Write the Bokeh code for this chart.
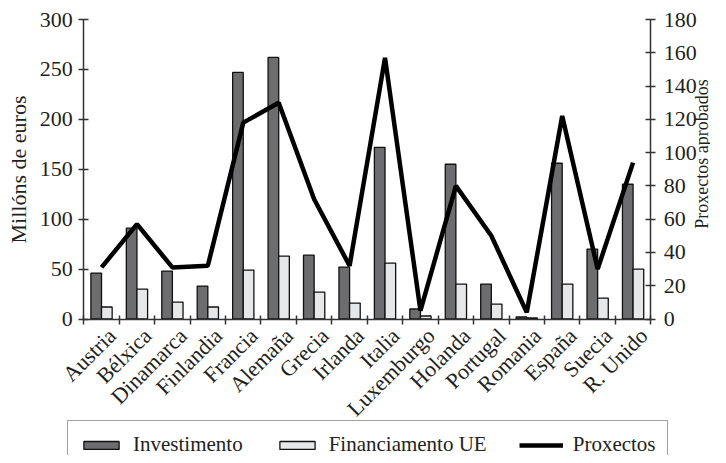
import math
from bokeh.plotting import figure
from bokeh.models import (ColumnDataSource, Range1d, LinearAxis, FixedTicker,
                          Legend, LegendItem)
from bokeh.transform import dodge
from bokeh.embed import file_html
from bokeh.resources import INLINE

countries = ["Austria", "Bélxica", "Dinamarca", "Finlandia", "Francia", "Alemaña",
             "Grecia", "Irlanda", "Italia", "Luxemburgo", "Holanda", "Portugal",
             "Romania", "España", "Suecia", "R. Unido"]
investimento = [46, 91, 48, 33, 247, 262, 64, 52, 172, 10, 155, 35, 2, 156, 70, 135]
financiamento = [12, 30, 17, 12, 49, 63, 27, 16, 56, 3, 35, 15, 1, 35, 21, 50]
proxectos = [31, 57, 31, 32, 118, 130, 72, 32, 157, 5, 80, 50, 4, 122, 30, 94]

left_ticks = [0, 50, 100, 150, 200, 250, 300]
right_ticks = [0, 20, 40, 60, 80, 100, 120, 140, 160, 180]
LEFT_MAX, RIGHT_MAX = 300, 180

FONT = "Liberation Serif"
TXT = "#231f20"
AX = "#333333"
DARK = "#6d6d6f"
LIGHT = "#e6e7e8"
LABEL_SHIFT = 0.3  # rotated category labels sit slightly right of the category centre

# layout (px, measured from the plotting frame's top-left corner)
W, H = 710, 455
PX_L, PX_R, PX_T, PX_B = 83.3, 650.3, 19.0, 318.5
n = len(countries)
ux = (PX_R - PX_L) / n
sy = (PX_B - PX_T) / LEFT_MAX
sy2 = (PX_B - PX_T) / RIGHT_MAX


def x_at(px):
    return -0.5 + (px - PX_L) / ux


idx = list(range(n))
src = ColumnDataSource(dict(x=idx, inv=investimento, fin=financiamento, proj=proxectos))

p = figure(width=W, height=H, output_backend="svg", toolbar_location=None, title=None,
           x_range=Range1d(x_at(0), x_at(W)),
           y_range=Range1d(-(H - PX_B) / sy, LEFT_MAX + PX_T / sy),
           min_border=0, min_border_left=0, min_border_right=0,
           min_border_top=0, min_border_bottom=0,
           x_axis_location=None, y_axis_location=None)
p.outline_line_color = None
p.xgrid.visible = False
p.ygrid.visible = False
p.extra_y_ranges = {"proj": Range1d(-(H - PX_B) / sy2, RIGHT_MAX + PX_T / sy2)}

bar_style = dict(line_color="#111111", line_width=1.3)
r_inv = p.vbar(x=dodge("x", -0.15, range=p.x_range), top="inv", width=0.3, source=src,
               fill_color=DARK, **bar_style)
r_fin = p.vbar(x=dodge("x", 0.15, range=p.x_range), top="fin", width=0.3, source=src,
               fill_color=LIGHT, **bar_style)
r_proj = p.line(x="x", y="proj", source=src, y_range_name="proj",
                line_color="black", line_width=4.5)


def style_axis(ax):
    ax.axis_line_color = AX
    ax.axis_line_width = 1.5
    ax.major_tick_line_color = AX
    ax.major_tick_line_width = 1.5
    ax.minor_tick_line_color = None
    ax.major_tick_in = 5
    ax.major_tick_out = 5
    ax.major_label_text_font = FONT
    ax.major_label_text_font_size = "22px"
    ax.major_label_text_color = TXT
    ax.axis_label_text_font = FONT
    ax.axis_label_text_font_style = "normal"
    ax.axis_label_text_color = TXT


yl = LinearAxis(ticker=FixedTicker(ticks=left_ticks), axis_label="Millóns de euros",
                fixed_location=-0.5, bounds=(0, LEFT_MAX))
style_axis(yl)
yl.major_label_standoff = 6
yl.axis_label_standoff = 6
yl.axis_label_text_font_size = "22px"
p.add_layout(yl, "left")

yr = LinearAxis(y_range_name="proj", ticker=FixedTicker(ticks=right_ticks),
                fixed_location=n - 0.5, bounds=(0, RIGHT_MAX))
style_axis(yr)
yr.major_label_standoff = 8
p.add_layout(yr, "right")

# title of the right-hand scale, reading upwards, at the right edge
title_mid = (PX_B - 153.5) / sy2
yr_title = LinearAxis(y_range_name="proj", ticker=FixedTicker(ticks=[]),
                      axis_label="Proxectos aprobados", fixed_location=x_at(711),
                      bounds=(title_mid - 80, title_mid + 80))
style_axis(yr_title)
yr_title.axis_line_color = None
yr_title.major_tick_line_color = None
yr_title.major_tick_out = 0
yr_title.major_tick_in = 0
yr_title.major_label_standoff = 0
yr_title.axis_label_standoff = 0
yr_title.axis_label_text_font_size = "18px"
p.add_layout(yr_title, "left")

boundaries = [i - 0.5 for i in range(n + 1)]
label_pos = [i + LABEL_SHIFT for i in idx]
xa = LinearAxis(ticker=FixedTicker(ticks=label_pos, minor_ticks=boundaries),
                major_label_overrides={x: c for x, c in zip(label_pos, countries)},
                fixed_location=0, bounds=(-0.5, n - 0.5))
style_axis(xa)
xa.major_tick_line_color = None
xa.minor_tick_line_color = AX
xa.minor_tick_line_width = 1.5
xa.minor_tick_in = 4
xa.minor_tick_out = 5
xa.major_label_orientation = math.pi / 4
xa.major_label_standoff = 8
p.add_layout(xa, "below")

legend = Legend(items=[LegendItem(label="Investimento", renderers=[r_inv]),
                       LegendItem(label="Financiamento UE", renderers=[r_fin]),
                       LegendItem(label="Proxectos", renderers=[r_proj])],
                orientation="horizontal", location=(67, -14),
                glyph_width=44, glyph_height=10, label_standoff=10, spacing=32,
                padding=11, margin=0, border_line_color="#444444", border_line_width=1.5,
                label_text_font=FONT, label_text_font_size="21px",
                label_text_color=TXT, background_fill_alpha=0)
p.add_layout(legend, "center")

open("out.html", "w").write(file_html(p, INLINE))
